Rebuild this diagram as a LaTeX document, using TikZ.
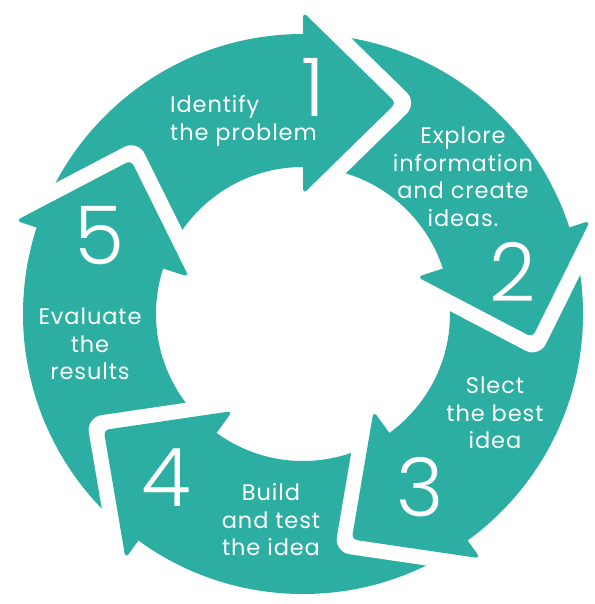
\documentclass[tikz,border=0pt]{standalone}
\usepackage{fontspec}
\setmainfont{Poppins}[LetterSpace=4]
\newfontfamily\numfont{Poppins Light}
\definecolor{cycleteal}{HTML}{2CAFA2}
\begin{document}
\begin{tikzpicture}[x=1pt,y=1pt,
  steptext/.style={text=white,align=center,inner sep=0pt,font=\fontsize{22.5}{27.5}\selectfont},
  stepnum/.style={text=white,inner sep=0pt,font=\numfont\fontsize{81}{81}\selectfont}]
\def\ro{280}
\def\ri{147}
\useasboundingbox (-303,-290) rectangle (291,314);
% ring body
\fill[cycleteal,even odd rule] (0,0) circle (\ro) (0,0) circle (\ri);
% arrow heads, every 72 deg; the white rim cuts the notch into the next step
\foreach \a in {90,18,-54,-126,-198} {
  \coordinate (wo) at (\a:302);
  \coordinate (wi) at (\a:120);
  \coordinate (tip) at (\a-23.8:230.6);
  \draw[white,line width=30,line join=round] (wo) -- (tip) -- (wi);
  \fill[cycleteal,rounded corners=5] (wo) -- (tip) -- (wi) -- cycle;
}
% step numbers
\node[stepnum] (num1) at (10,227) {1};
\node[stepnum] (num2) at (210,42) {2};
\node[stepnum] (num3) at (117,-173) {3};
\node[stepnum] (num4) at (-137,-164) {4};
\node[stepnum] (num5) at (-204,78) {5};
% step labels
\node[steptext,align=left,anchor=west] (lbl1) at (-133,193) {Identify\\the problem};
\node[steptext] (lbl2) at (160,137) {Explore\\information\\and create\\ideas.};
\node[steptext] (lbl3) at (192,-99) {Slect\\the best\\idea};
\node[steptext] (lbl4) at (-32,-206) {Build\\and test\\the idea};
\node[steptext] (lbl5) at (-213,-30) {Evaluate\\the\\results};
\end{tikzpicture}
\end{document}
